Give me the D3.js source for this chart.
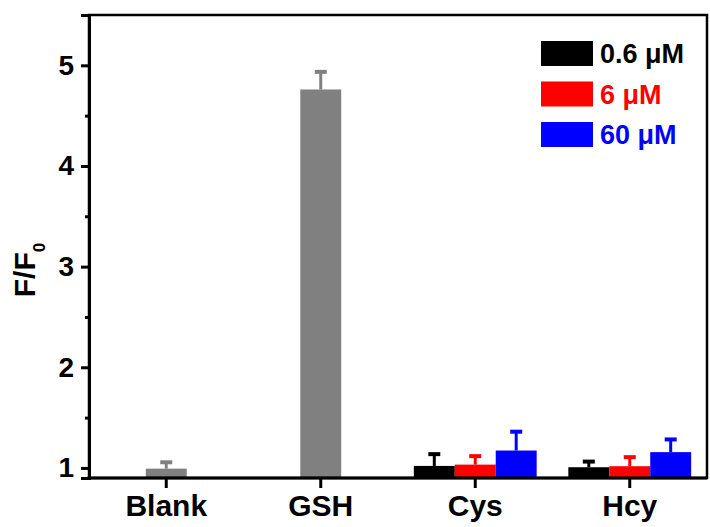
<!DOCTYPE html>
<html>
<head>
<meta charset="utf-8">
<script src="https://cdn.jsdelivr.net/npm/d3@7"></script>
<style>
  body { margin: 0; background: #fff; }
  svg text { font-family: "Liberation Sans", Arial, sans-serif; font-weight: bold; }
</style>
</head>
<body>
<div id="chart"></div>
<script>
// categories on the x axis
var categories = ["Blank", "GSH", "Cys", "Hcy"];

// single gray bars (Blank, GSH)
var singleCats = ["Blank", "GSH"];
var singleValues = [0.993, 4.76];
var singleErrors = [0.073, 0.185];

// concentration series for Cys / Hcy
var concentrations = ["0.6 \u03bcM", "6 \u03bcM", "60 \u03bcM"];
var seriesColors = ["#000000", "#ff0000", "#0000ff"];
var cysValues = [1.02, 1.033, 1.173];
var cysErrors = [0.127, 0.094, 0.197];
var hcyValues = [1.007, 1.017, 1.157];
var hcyErrors = [0.066, 0.10, 0.136];

var yTicks = [1, 2, 3, 4, 5];
var yMinor = [1.5, 2.5, 3.5, 4.5];

var width = 710, height = 527;
var margin = {left: 89, right: 3, top: 15, bottom: 49};

var svg = d3.select("#chart").append("svg")
    .attr("width", width)
    .attr("height", height);

var x = d3.scaleBand()
    .domain(categories)
    .range([margin.left, width - margin.right]);

var y = d3.scaleLinear()
    .domain([0.9, 5.5])
    .range([height - margin.bottom, margin.top]);

var barW = x.bandwidth() * 0.265;

// build bar records from the arrays
var bars = [];
singleValues.forEach(function(v, i) {
    bars.push({cx: x(singleCats[i]) + x.bandwidth() / 2, value: v, err: singleErrors[i], color: "#808080"});
});
[["Cys", cysValues, cysErrors], ["Hcy", hcyValues, hcyErrors]].forEach(function(g) {
    g[1].forEach(function(v, j) {
        bars.push({cx: x(g[0]) + x.bandwidth() / 2 + (j - 1) * barW, value: v, err: g[2][j], color: seriesColors[j]});
    });
});

var gBars = svg.append("g");

// error bars (upper only)
gBars.selectAll("line.stem")
    .data(bars)
    .enter().append("line")
    .attr("class", "stem")
    .attr("x1", function(d) { return d.cx; })
    .attr("x2", function(d) { return d.cx; })
    .attr("y1", function(d) { return y(d.value); })
    .attr("y2", function(d) { return y(d.value + d.err); })
    .attr("stroke", function(d) { return d.color; })
    .attr("stroke-width", 3);

gBars.selectAll("line.cap")
    .data(bars)
    .enter().append("line")
    .attr("class", "cap")
    .attr("x1", function(d) { return d.cx - 6; })
    .attr("x2", function(d) { return d.cx + 6; })
    .attr("y1", function(d) { return y(d.value + d.err) + 1; })
    .attr("y2", function(d) { return y(d.value + d.err) + 1; })
    .attr("stroke", function(d) { return d.color; })
    .attr("stroke-width", 4);

gBars.selectAll("rect")
    .data(bars)
    .enter().append("rect")
    .attr("x", function(d) { return d.cx - barW / 2; })
    .attr("width", barW)
    .attr("y", function(d) { return y(d.value); })
    .attr("height", function(d) { return y.range()[0] - y(d.value); })
    .attr("fill", function(d) { return d.color; });

// frame (top and right)
svg.append("rect")
    .attr("x", x.range()[0])
    .attr("y", y.range()[1])
    .attr("width", x.range()[1] - x.range()[0])
    .attr("height", y.range()[0] - y.range()[1])
    .attr("fill", "none")
    .attr("stroke", "#000")
    .attr("stroke-width", 2.5);

// y axis
var yAxis = svg.append("g")
    .attr("transform", "translate(" + margin.left + ",0)")
    .call(d3.axisLeft(y).tickValues(yTicks).tickSize(8).tickPadding(7).tickFormat(d3.format("d")));
svg.append("g")
    .attr("transform", "translate(" + margin.left + ",0)")
    .call(d3.axisLeft(y).tickValues(yMinor).tickSize(4).tickFormat(""))
    .select(".domain").remove();

// x axis
var xAxis = svg.append("g")
    .attr("transform", "translate(0," + (height - margin.bottom) + ")")
    .call(d3.axisBottom(x).tickSize(10).tickPadding(7));

[yAxis, xAxis].forEach(function(ax) {
    ax.select(".domain").attr("stroke-width", 3).attr("stroke", "#000");
    ax.selectAll(".tick text").attr("fill", "#000");
});
yAxis.selectAll(".tick text").style("font-size", "28px");
xAxis.selectAll(".tick text").style("font-size", "30px");
svg.selectAll(".tick line").attr("stroke-width", 3).attr("stroke", "#000");
xAxis.select(".domain").attr("d", "M" + (margin.left - 1.5) + ",0H" + x.range()[1]);

// y label
var ylab = svg.append("text")
    .attr("transform", "translate(35,270) rotate(-90)")
    .attr("text-anchor", "middle")
    .style("font-size", "30px")
    .text("F/F");
ylab.append("tspan")
    .attr("dy", 10)
    .style("font-size", "17px")
    .text("0");

// legend
var legend = svg.append("g")
    .attr("transform", "translate(541,41)");
var li = legend.selectAll("g")
    .data(concentrations)
    .enter().append("g")
    .attr("transform", function(d, i) { return "translate(0," + i * 40.5 + ")"; });
li.append("rect")
    .attr("width", 52)
    .attr("height", 25)
    .attr("fill", function(d, i) { return seriesColors[i]; });
li.append("text")
    .attr("x", 59)
    .attr("y", 22)
    .style("font-size", "27px")
    .attr("fill", function(d, i) { return seriesColors[i]; })
    .text(function(d) { return d; });
</script>
</body>
</html>
